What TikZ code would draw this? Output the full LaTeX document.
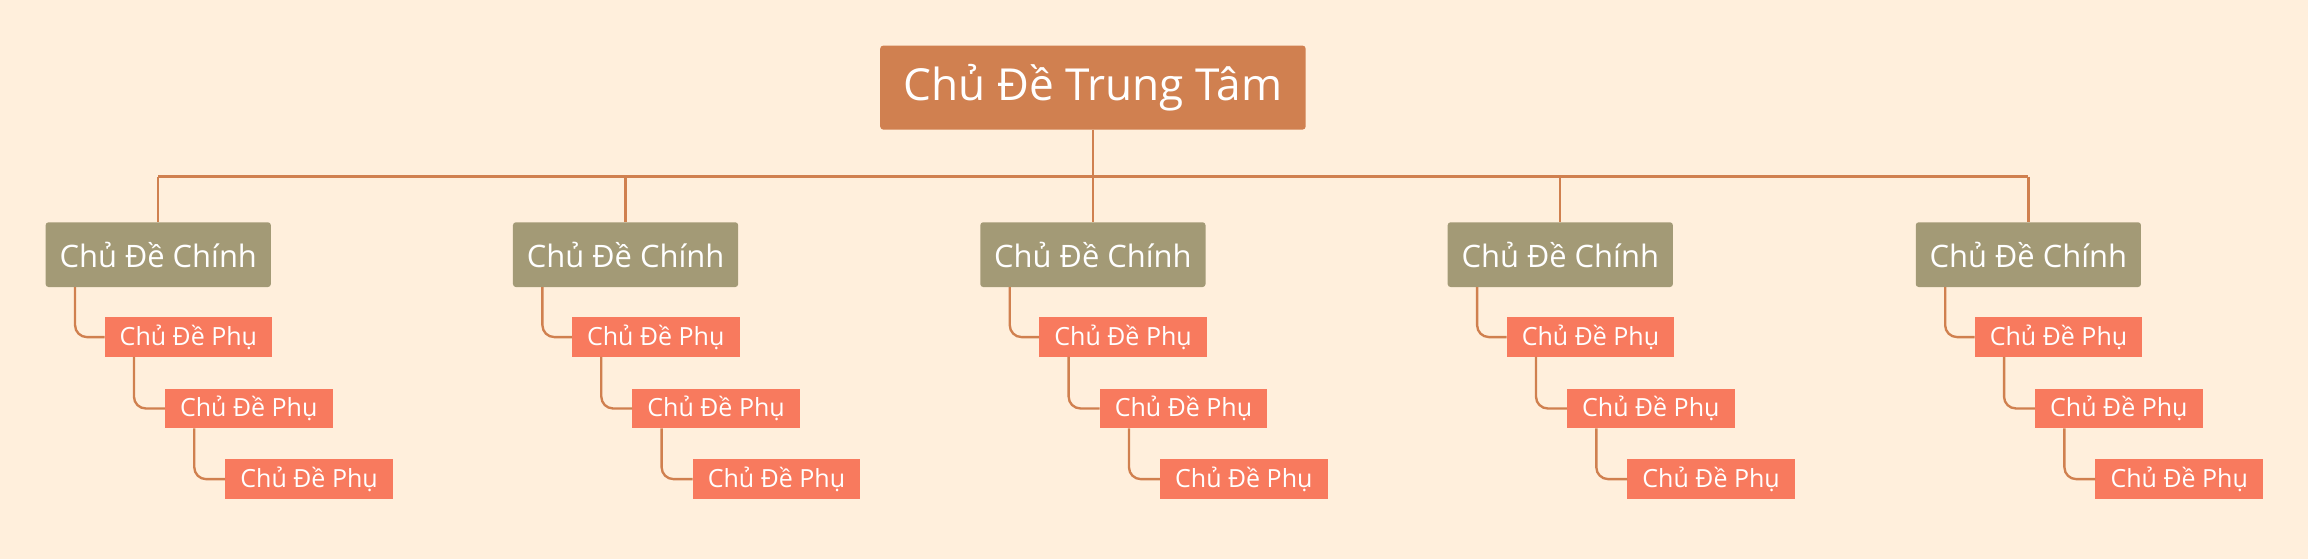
\documentclass[tikz,border=0pt]{standalone}
\usepackage{fontspec}
\setmainfont{Open Sans}
\definecolor{bgcream}{HTML}{FFEFDC}
\definecolor{rootbrown}{HTML}{D08050}
\definecolor{mainolive}{HTML}{A39A76}
\definecolor{subsalmon}{HTML}{F87A5E}
\definecolor{linkline}{HTML}{D0804F}
\tikzset{
  rootbox/.style={fill=rootbrown, text=white, minimum width=144.5pt, minimum height=28.5pt, font=\fontsize{15}{18}\selectfont, rounded corners=1pt},
  mainbox/.style={fill=mainolive, text=white, minimum width=76.5pt, minimum height=22pt, font=\fontsize{10.5}{12}\selectfont, rounded corners=1pt},
  subbox/.style={fill=subsalmon, text=white, minimum width=57pt, minimum height=13.5pt, font=\fontsize{8.5}{10}\selectfont, anchor=west},
  link/.style={draw=linkline, line width=0.8pt, rounded corners=4pt}
}
\begin{document}
\begin{tikzpicture}[x=0.5pt, y=-0.5pt, inner sep=0pt, outer sep=0pt]
\useasboundingbox[fill=bgcream] (0,0) rectangle (1568,380);
\node[rootbox] (root) at (742.5,59.5) {Chủ Đề Trung Tâm};
\coordinate (busl) at (107.5,120);
\coordinate (busr) at (1378,120);
\draw[link, rounded corners=0pt] (busl) -- (busr);
\draw[link] (root.south) -- (742.5,120);
\foreach \i/\cx in {1/107.5,2/425,3/742.5,4/1060,5/1378}{
  \node[mainbox] (main\i) at (\cx,173) {Chủ Đề Chính};
  \draw[link] (\cx,120) -- (main\i.north);
  \node[subbox] (suba\i) at (\cx-36.5,229) {Chủ Đề Phụ};
  \node[subbox] (subb\i) at (\cx+4.5,277.5) {Chủ Đề Phụ};
  \node[subbox] (subc\i) at (\cx+45.5,325.5) {Chủ Đề Phụ};
  \draw[link] (\cx-56.5,195) |- (suba\i.west);
  \draw[link] (\cx-16.5,242.5) |- (subb\i.west);
  \draw[link] (\cx+24.5,291) |- (subc\i.west);
}
\end{tikzpicture}
\end{document}
